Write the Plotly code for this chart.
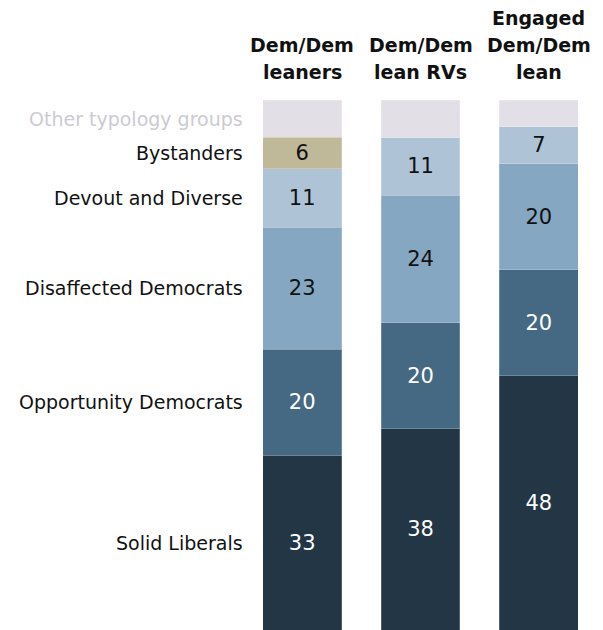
import plotly.graph_objects as go

column_lines = [["Dem/Dem", "leaners"], ["Dem/Dem", "lean RVs"], ["Engaged", "Dem/Dem", "lean"]]
groups = ["Solid Liberals", "Opportunity Democrats", "Disaffected Democrats",
          "Devout and Diverse", "Bystanders", "Other typology groups"]
solid_liberals = [33, 38, 48]
opportunity = [20, 20, 20]
disaffected = [23, 24, 20]
devout = [11, 11, 7]
bystanders = [6, 0, 0]
other = [7, 7, 5]

series = [solid_liberals, opportunity, disaffected, devout, bystanders, other]
colors = ["#233645", "#456983", "#85a7c2", "#aec4d6", "#bfb899", "#e2e0e6"]
text_colors = ["white", "white", "#111111", "#111111", "#111111", "#111111"]
label_colors = ["#111111"] * 5 + ["#cdcad3"]

FONT = "DejaVu Sans, Liberation Sans, sans-serif"

fig = go.Figure()
xs = [0, 1, 2]
for name, vals, c, tc in zip(groups, series, colors, text_colors):
    show_text = name != "Other typology groups"
    fig.add_trace(go.Bar(
        x=xs, y=vals, name=name,
        marker=dict(color=c, line=dict(width=0.6, color="rgba(255,255,255,0.35)")),
        width=0.667,
        text=[str(v) if (v > 0 and show_text) else "" for v in vals],
        textposition="inside", insidetextanchor="middle", textangle=0,
        textfont=dict(color=tc, size=21, family=FONT),
        hoverinfo="skip",
    ))

annotations = []
# Row labels positioned at midpoints of first column's segments
cum = 0
for name, vals, lc in zip(groups, series, label_colors):
    mid = cum + vals[0] / 2
    cum += vals[0]
    annotations.append(dict(
        x=-0.5, xref="x", y=mid, yref="y", text=name, showarrow=False,
        xanchor="right", yanchor="middle", xshift=2,
        font=dict(size=19, color=lc, family=FONT),
    ))
# Column headers, one annotation per line (bottom line first)
line_shifts = [28, 55, 82]
for i, lines in enumerate(column_lines):
    for j, line in enumerate(reversed(lines)):
        annotations.append(dict(
            x=xs[i], xref="x", y=1.0, yref="paper", yshift=line_shifts[j],
            text="<b>" + line + "</b>", showarrow=False,
            xanchor="center", yanchor="middle",
            font=dict(size=19, color="#111111", family=FONT),
        ))

fig.update_layout(
    barmode="stack",
    width=603, height=630,
    margin=dict(l=235, r=13, t=92, b=8, pad=0),
    plot_bgcolor="white", paper_bgcolor="white",
    showlegend=False,
    xaxis=dict(range=[-0.5, 2.5], visible=False, fixedrange=True),
    yaxis=dict(range=[0, 100], visible=False, fixedrange=True),
    annotations=annotations,
    uniformtext=dict(minsize=21, mode="show"),
)

fig.write_html("out.html")
